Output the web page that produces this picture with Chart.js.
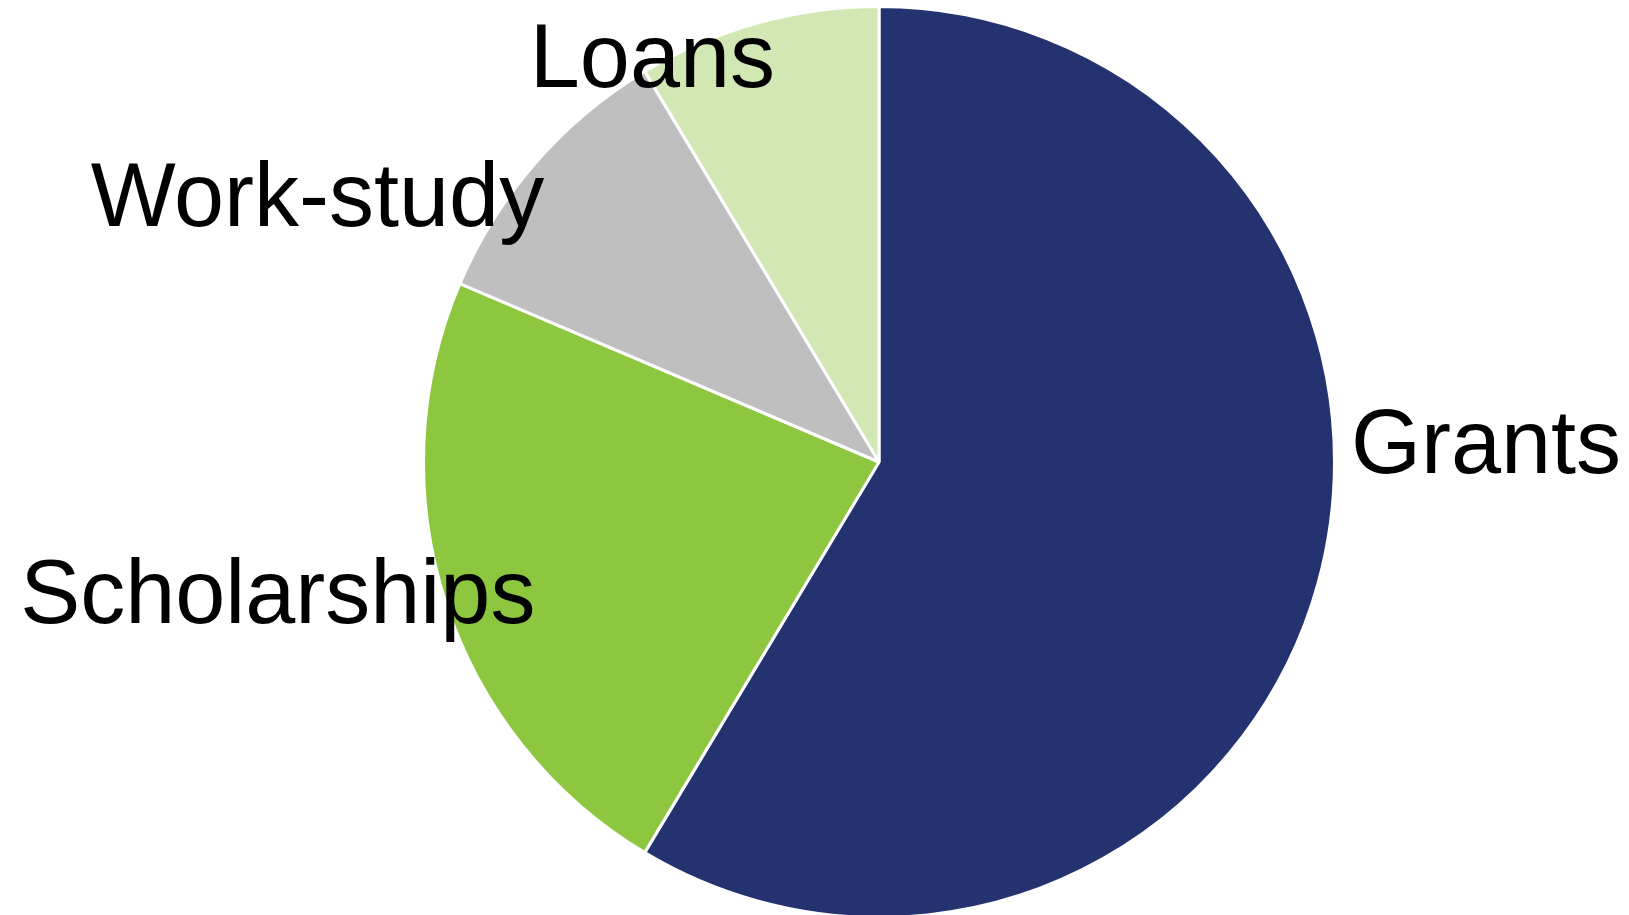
<!DOCTYPE html>
<html>
<head>
<meta charset="utf-8">
<script src="https://cdn.jsdelivr.net/npm/chart.js@4.4.1/dist/chart.umd.min.js"></script>
<style>
  html, body { margin: 0; padding: 0; background: #fff; overflow: hidden; }
  #wrap { position: relative; width: 1629px; height: 919px; }
</style>
</head>
<body>
<div id="wrap"><canvas id="pie" width="1629" height="919"></canvas></div>
<script>
// Aid categories and their shares (%)
const categories = ['Grants', 'Scholarships', 'Work-study', 'Loans'];
const shares = [58.6, 22.8, 10.0, 8.6];
const sliceColors = ['#24336F', '#8DC63F', '#BFBFBF', '#D1E8B5'];

// where each label sits, relative to the outer midpoint of its slice
const labelOffsets = [[168, -111], [-168, 20], [-218, 63], [-105, 64]];

const outsideLabels = {
  id: 'outsideLabels',
  afterDatasetsDraw(chart) {
    const ctx = chart.ctx;
    const arcs = chart.getDatasetMeta(0).data;
    ctx.save();
    ctx.fillStyle = '#000';
    ctx.font = '90px "Liberation Sans", Arial, sans-serif';
    ctx.textAlign = 'center';
    ctx.textBaseline = 'alphabetic';
    arcs.forEach((arc, i) => {
      const { x, y, startAngle, endAngle, outerRadius } = arc.getProps(['x', 'y', 'startAngle', 'endAngle', 'outerRadius'], true);
      const mid = (startAngle + endAngle) / 2;
      const px = x + Math.cos(mid) * outerRadius;
      const py = y + Math.sin(mid) * outerRadius;
      ctx.fillText(chart.data.labels[i], px + labelOffsets[i][0], py + labelOffsets[i][1]);
    });
    ctx.restore();
  }
};

new Chart(document.getElementById('pie').getContext('2d'), {
  type: 'pie',
  data: {
    labels: categories,
    datasets: [{
      data: shares,
      backgroundColor: sliceColors,
      borderColor: '#ffffff',
      borderWidth: 3,
    }],
  },
  options: {
    responsive: false,
    animation: false,
    layout: { padding: { left: 129, top: 5, right: 0, bottom: 0 } },
    plugins: {
      legend: { display: false },
      tooltip: { enabled: false },
    },
  },
  plugins: [outsideLabels],
});
</script>
</body>
</html>
